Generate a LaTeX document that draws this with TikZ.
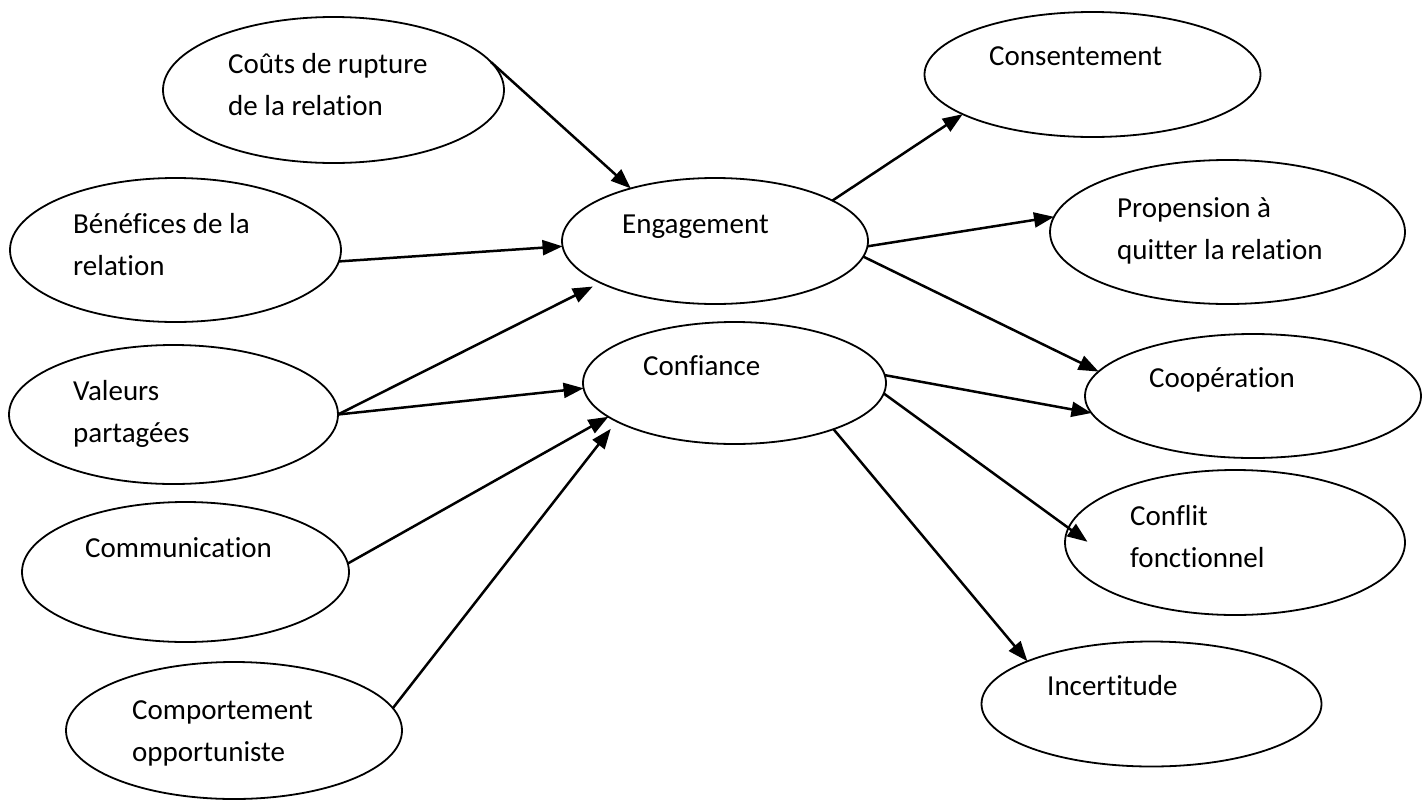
\documentclass[tikz,border=0pt]{standalone}
\usepackage{fontspec}
\setmainfont{Carlito}[Ligatures=NoCommon]
\usetikzlibrary{shapes.geometric,arrows.meta}
% two left-aligned lines whose baseline is the first one
\newcommand\twolines[2]{\begin{tabular}[t]{@{}l@{}}#1\\#2\end{tabular}}
\begin{document}
\begin{tikzpicture}[x=1pt,y=-1pt,
  oval/.style={ellipse,draw,line width=1.8pt,inner sep=0pt,outer sep=0pt},
  lbl/.style={anchor=base west,inner sep=0pt,font=\fontsize{29}{42}\selectfont},
  link/.style={line width=2.5pt,-{Triangle[length=20pt,width=15pt]}}]

% page
\fill[white] (0,0) rectangle (1427,801);
\useasboundingbox (0,0) rectangle (1427,801);

% antecedents
\node[oval,minimum width=341pt,minimum height=146pt] (coup) at (333.5,90) {};
\node[oval,minimum width=331pt,minimum height=144pt] (ben)  at (175.5,250) {};
\node[oval,minimum width=329pt,minimum height=139pt] (val)  at (173.5,414.5) {};
\node[oval,minimum width=327pt,minimum height=140pt] (comm) at (185.5,572) {};
\node[oval,minimum width=336pt,minimum height=137pt] (comp) at (234,730.5) {};

% mediators
\node[oval,minimum width=306pt,minimum height=126pt] (eng)  at (715,241) {};
\node[oval,minimum width=303pt,minimum height=122pt] (conf) at (734.5,383) {};

% outcomes
\node[oval,minimum width=336pt,minimum height=125pt] (cons)  at (1092.5,74.5) {};
\node[oval,minimum width=355pt,minimum height=144pt] (prop)  at (1227.5,232) {};
\node[oval,minimum width=336pt,minimum height=124pt] (coop)  at (1253,396) {};
\node[oval,minimum width=340pt,minimum height=145pt] (confl) at (1235,542.5) {};
\node[oval,minimum width=340pt,minimum height=125pt] (inc)   at (1151.5,704) {};

% labels
\node[lbl] (coup-t)  at (228,73)   {\twolines{Coûts de rupture}{de la relation}};
\node[lbl] (ben-t)   at (73,233)   {\twolines{Bénéfices de la}{relation}};
\node[lbl] (val-t)   at (73,400)   {\twolines{Valeurs}{partagées}};
\node[lbl] (comm-t)  at (85,557)   {Communication};
\node[lbl] (comp-t)  at (132,719)  {\twolines{Comportement}{opportuniste}};
\node[lbl] (eng-t)   at (622,233)  {Engagement};
\node[lbl] (conf-t)  at (643,375)  {Confiance};
\node[lbl] (cons-t)  at (989,65)   {Consentement};
\node[lbl] (prop-t)  at (1117,217) {\twolines{Propension à}{quitter la relation}};
\node[lbl] (coop-t)  at (1149,387) {Coopération};
\node[lbl] (confl-t) at (1130,525) {\twolines{Conflit}{fonctionnel}};
\node[lbl] (inc-t)   at (1047,695) {Incertitude};

% links into the mediators
\draw[link] (coup.10)   -- (eng.148.6);
\draw[link] (ben.356.8) -- (eng.182);
\draw[link,shorten >=8.5pt] (val.east) -- (eng.200.4);
\draw[link] (val.east)  -- (conf.182.6);
\draw[link] (comm.3.2)  -- (conf.195.3);
\draw[link,shorten >=9.5pt] (comp.8) -- (conf.198.1);

% links out of the mediators
\draw[link] (eng.19.7)  -- (cons.197.9);
\draw[link] (eng.358.5) -- (prop.175.2);
\draw[link] (eng.354)   -- (coop.171.6);
\draw[link] (conf.3)    -- (coop.186.4);
\draw[link,shorten >=-23.5pt] (conf.356.6) -- (confl.175);
\draw[link] (conf.335.2) -- (inc.161.6);
\end{tikzpicture}
\end{document}
